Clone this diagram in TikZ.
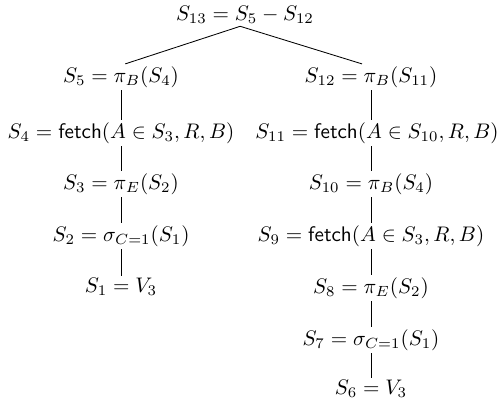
\documentclass[tikz,border=0pt]{standalone}
\usepackage{amsmath,amssymb}
\usepackage{tikz}

\begin{document}
\begin{tikzpicture}[inner sep=1pt]
\useasboundingbox (0,0) rectangle (8.383,6.783);
\node (s13) at (4.083,6.533) {$S_{13}=S_5-S_{12}$};
% left branch
\node (s5) at (2.017,5.5) {$S_5=\pi_B(S_4)$};
\node (s4) at (2.017,4.567) {$S_4=\mathsf{fetch}(A\in S_3,R,B)$};
\node (s3) at (2.017,3.717) {$S_3=\pi_E(S_2)$};
\node (s2) at (2.017,2.85) {$S_2=\sigma_{C=1}(S_1)$};
\node (s1) at (2.017,2.0) {$S_1=V_3$};
% right branch
\node (s12) at (6.183,5.5) {$S_{12}=\pi_B(S_{11})$};
\node (s11) at (6.283,4.567) {$S_{11}=\mathsf{fetch}(A\in S_{10},R,B)$};
\node (s10) at (6.183,3.717) {$S_{10}=\pi_B(S_4)$};
\node (s9) at (6.183,2.85) {$S_9=\mathsf{fetch}(A\in S_3,R,B)$};
\node (s8) at (6.183,1.983) {$S_8=\pi_E(S_2)$};
\node (s7) at (6.183,1.117) {$S_7=\sigma_{C=1}(S_1)$};
\node (s6) at (6.183,0.3) {$S_6=V_3$};
\draw ([xshift=-0.08cm]s13.south) -- ([xshift=0.07cm]s5.north);
\draw ([xshift=-0.08cm]s13.south) -- ([xshift=-0.15cm]s12.north);
\draw (s5) -- (s4);
\draw (s4) -- (s3);
\draw (s3) -- (s2);
\draw (s2) -- (s1);
\draw (s12.south) -- (s12.south |- s11.north);
\draw (s12.south |- s11.south) -- (s10.north);
\draw (s10) -- (s9);
\draw (s9) -- (s8);
\draw (s8) -- (s7);
\draw (s7) -- (s6);
\end{tikzpicture}
\end{document}
